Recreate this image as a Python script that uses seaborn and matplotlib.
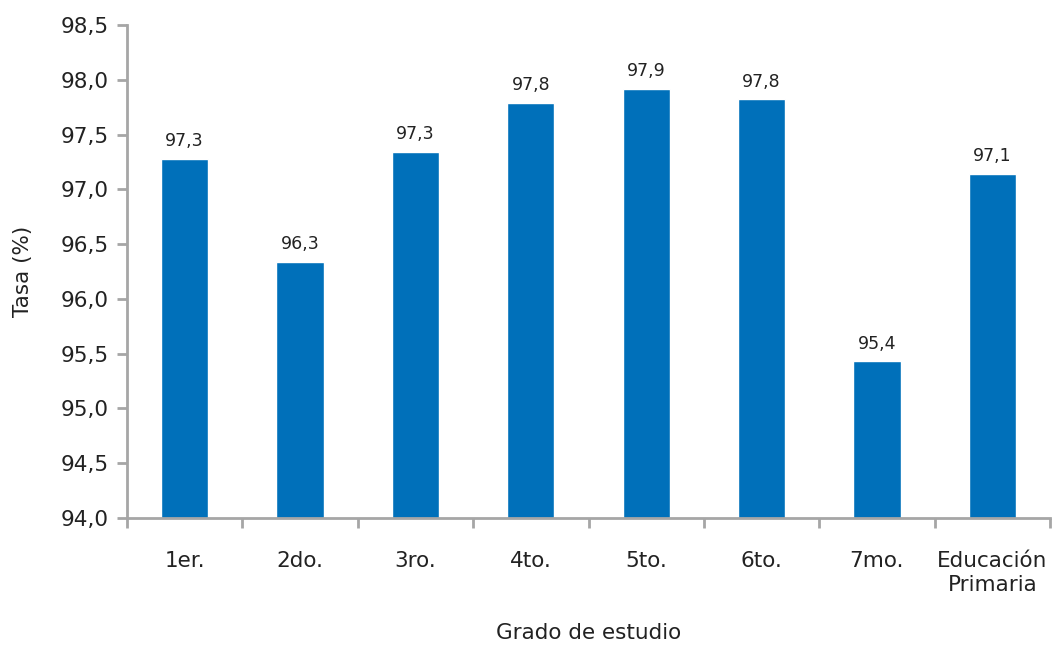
import seaborn as sns
import matplotlib.pyplot as plt
import numpy as np
import pandas as pd

# categories and values
grados = ['1er.', '2do.', '3ro.', '4to.', '5to.', '6to.', '7mo.', 'Educación\nPrimaria']
tasa = [97.28, 96.34, 97.34, 97.79, 97.92, 97.82, 95.43, 97.14]
etiquetas = ['97,3', '96,3', '97,3', '97,8', '97,9', '97,8', '95,4', '97,1']
y_ticks = [94.0, 94.5, 95.0, 95.5, 96.0, 96.5, 97.0, 97.5, 98.0, 98.5]

df = pd.DataFrame({'grado': grados, 'tasa': tasa})

sns.set_style('white')
plt.rcParams['font.family'] = ['DejaVu Sans']

fig = plt.figure(figsize=(10.53, 6.45), dpi=100)
ax = fig.add_axes([127 / 1053, 1 - 518 / 645, (1050 - 127) / 1053, (518 - 25) / 645])

sns.barplot(data=df, x='grado', y='tasa', color='#0070BA', width=0.41,
            saturation=1, ax=ax)

# data labels
for i, (v, t) in enumerate(zip(tasa, etiquetas)):
    ax.text(i, v + 0.08, t, ha='center', va='bottom', fontsize=12.5, color='#222222')

ax.set_ylim(94.0, 98.5)
ax.set_xlim(-0.5, len(grados) - 0.5)
ax.set_yticks(y_ticks)
ax.set_yticklabels([f'{t:.1f}'.replace('.', ',') for t in y_ticks], fontsize=15.5, color='#222222')

# x ticks between categories, labels at centers
ax.set_xticks(np.arange(len(grados) + 1) - 0.5)
ax.set_xticklabels([])
ax.set_xticks(np.arange(len(grados)), minor=True)
ax.set_xticklabels(grados, minor=True, fontsize=15.5, color='#222222', linespacing=1.25)
ax.tick_params(axis='x', which='minor', bottom=False, length=0, pad=24)
ax.tick_params(axis='x', which='major', bottom=True, length=7, width=2, color='#A6A6A6', direction='out')
ax.tick_params(axis='y', left=True, length=7, width=2, color='#A6A6A6', direction='out', pad=6)

for s in ['top', 'right']:
    ax.spines[s].set_visible(False)
for s in ['left', 'bottom']:
    ax.spines[s].set_color('#A6A6A6')
    ax.spines[s].set_linewidth(2)

ax.set_xlabel('Grado de estudio', fontsize=15.5, color='#222222', labelpad=20)
ax.set_ylabel('Tasa (%)', fontsize=15.5, color='#222222', labelpad=20)

fig.savefig('out.png', dpi=100)
